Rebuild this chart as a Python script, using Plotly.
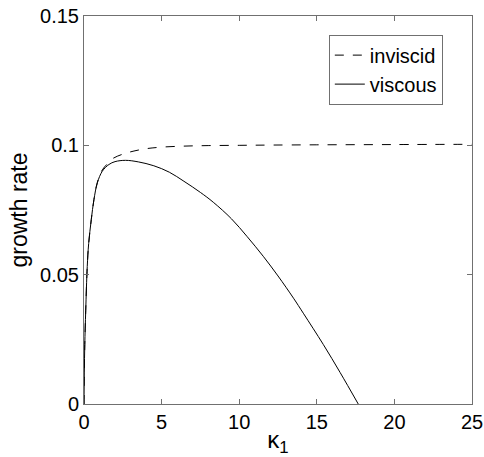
import plotly.graph_objects as go

# Wavenumber and growth-rate values
k_visc = [0, 0.02, 0.05, 0.11, 0.21, 0.3, 0.47, 0.64, 0.86, 1.18, 1.61, 2.0, 2.68,
          3.5, 4.5, 5.5, 6.44, 7.5, 8.33, 9.5, 10.5, 11.55, 12.5, 13.5, 14.13,
          15.42, 16.5, 17.67]
g_visc = [0, 0.012, 0.023, 0.036, 0.0532, 0.062, 0.0713, 0.079, 0.0855, 0.090,
          0.0926, 0.0937, 0.0942, 0.0936, 0.0921, 0.0896, 0.0861, 0.0818, 0.0780,
          0.0716, 0.0648, 0.0571, 0.0495, 0.0409, 0.0351, 0.0230, 0.0122, 0.0]

k_inv = [0, 0.02, 0.05, 0.11, 0.21, 0.3, 0.47, 0.64, 0.86, 1.18, 1.5, 1.83, 2.5,
         3.22, 4, 5, 6.44, 8, 10, 12, 15, 20, 25]
g_inv = [0, 0.012, 0.023, 0.036, 0.0532, 0.062, 0.0713, 0.079, 0.0857, 0.0905,
         0.0928, 0.0948, 0.0966, 0.0978, 0.0987, 0.0993, 0.0997, 0.0999, 0.1,
         0.1001, 0.1002, 0.1003, 0.1004]

x_ticks = [0, 5, 10, 15, 20, 25]
y_ticks = [0, 0.05, 0.1, 0.15]
y_tick_text = ["0", "0.05", "0.1", "0.15"]

FONT = "Liberation Sans, Arial, Helvetica, sans-serif"

fig = go.Figure()
fig.add_trace(go.Scatter(x=k_inv, y=g_inv, mode="lines", name="inviscid",
                         line=dict(color="black", width=1, dash="dash"),
                         line_shape="spline"))
fig.add_trace(go.Scatter(x=k_visc, y=g_visc, mode="lines", name="viscous",
                         line=dict(color="black", width=1),
                         line_shape="spline"))

axis_common = dict(showline=True, linecolor="#707070", linewidth=1, mirror="ticks",
                   ticks="inside", ticklen=5, tickcolor="#707070", showgrid=False,
                   zeroline=False, automargin=False,
                   tickfont=dict(family=FONT, size=20, color="black"))

fig.update_xaxes(range=[0, 25], tickvals=x_ticks,
                 title=dict(text="κ<sub>1</sub>", font=dict(family=FONT, size=24, color="black"),
                            standoff=0),
                 **axis_common)
fig.update_yaxes(range=[0, 0.15], tickvals=y_ticks, ticktext=y_tick_text,
                 title=dict(text="growth rate", font=dict(family=FONT, size=23, color="black"),
                            standoff=6),
                 **axis_common)

fig.update_layout(
    width=484, height=457,
    margin=dict(l=84, r=12, t=16, b=53),
    paper_bgcolor="white", plot_bgcolor="white",
    showlegend=True,
    legend=dict(x=0.631, y=0.952, xanchor="left", yanchor="top",
                bordercolor="#707070", borderwidth=1, bgcolor="white",
                font=dict(family=FONT, size=20, color="black"),
                tracegroupgap=0, itemwidth=30),
)

fig.write_html("out.html", config={"displayModeBar": False},
               post_script="document.body.style.margin='0';document.body.style.overflow='hidden';")
